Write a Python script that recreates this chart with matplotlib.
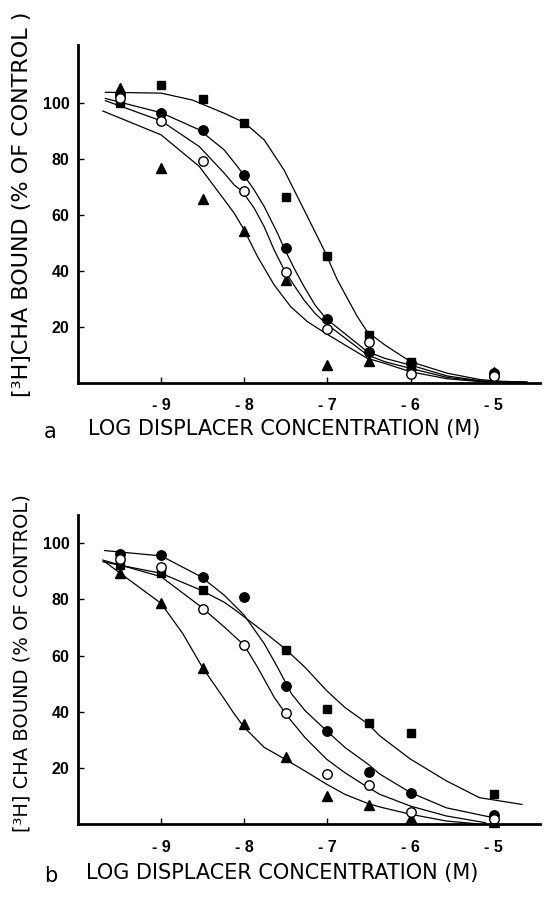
import numpy as np
import matplotlib
matplotlib.use('Agg')
import matplotlib.pyplot as plt

plt.rcParams['font.family'] = ['DejaVu Sans']

# measured points: log concentration and % of control
conc = [-9.5, -9, -8.5, -8, -7.5, -7, -6.5, -6, -5]

# panel a
a_square = [100, 106.5, 101.5, 92.8, 66.3, 45.5, 17.1, 7.4, 3]
a_dot = [103, 96.5, 90.4, 74.3, 48.1, 22.7, 11.2, 7, 3.5]
a_open = [101.7, 93.6, 79.3, 68.7, 39.8, 19.2, 14.8, 3.1, 2.5]
a_tri = [105.2, 76.7, 65.6, 54.4, 36.8, 6.4, 8.0, 6.5, 4.0]

# fitted curves
a_square_cx = [-9.67, -9.0, -8.62, -8.24, -8.0, -7.76, -7.52, -7.28, -7.04, -6.88, -6.64, -6.52, -6.31, -6.0, -5.56, -5.16, -4.9, -4.6]
a_square_cy = [103.8, 103.5, 101.0, 96.3, 93.0, 86.8, 76.0, 61.8, 47.5, 36.8, 23.7, 18.3, 13.6, 7.6, 3.5, 1.2, 0.6, 0.3]
a_dot_cx = [-9.67, -9.0, -8.54, -8.24, -8.12, -8.02, -7.88, -7.76, -7.6, -7.52, -7.39, -7.28, -7.15, -7.02, -6.52, -6.31, -6.0, -5.56, -5.16, -4.9, -4.6]
a_dot_cy = [101.6, 96.5, 90.4, 83.2, 78.7, 74.9, 68.9, 63.0, 53.5, 48.1, 40.4, 34.4, 27.9, 23.1, 11.2, 8.8, 6.4, 2.5, 0.8, 0.4, 0.3]
a_open_cx = [-9.67, -9.0, -8.54, -8.24, -8.12, -8.02, -7.88, -7.76, -7.64, -7.52, -7.39, -7.28, -7.15, -7.02, -6.52, -6.31, -6.0, -5.56, -5.16, -4.9, -4.6]
a_open_cy = [100.8, 93.6, 84.4, 74.9, 70.7, 68.3, 62.4, 55.8, 47.5, 40.4, 34.4, 29.6, 24.9, 21.3, 10.0, 7.6, 5.2, 2.0, 0.6, 0.3, 0.2]
a_tri_cx = [-9.7, -9.0, -8.54, -8.24, -8.12, -8.0, -7.84, -7.64, -7.44, -7.24, -7.02, -6.52, -6.31, -6.0, -5.56, -5.16, -4.9, -4.6]
a_tri_cy = [97.1, 88.6, 77.3, 65.4, 60.6, 54.6, 45.1, 35.0, 27.2, 21.9, 17.7, 8.8, 7.0, 4.0, 1.5, 0.5, 0.2, 0.2]

# panel b (no square at -8)
b_square_x = [-9.5, -9, -8.5, -7.5, -7, -6.5, -6, -5]
b_square = [92.2, 89.3, 83.3, 62.2, 41.2, 36.1, 32.4, 10.7]
b_dot = [96.2, 95.9, 88.0, 80.9, 49.1, 33.3, 18.8, 11.3, 3.2]
b_open = [94.3, 91.4, 76.5, 63.7, 39.6, 17.9, 14.0, 4.4, 2.0]
b_tri = [89.5, 78.6, 55.7, 35.7, 23.8, 10.1, 6.8, 2.1, 1.0]

b_square_cx = [-9.7, -9.0, -8.52, -8.24, -8.12, -8.0, -7.76, -7.51, -7.27, -7.01, -6.79, -6.51, -6.37, -6.0, -5.57, -5.17, -4.66]
b_square_cy = [93.4, 89.3, 83.3, 79.0, 76.5, 73.8, 68.4, 62.5, 55.9, 47.6, 41.6, 35.7, 31.5, 23.2, 15.5, 9.5, 7.1]
b_dot_cx = [-9.68, -9.0, -8.52, -8.24, -8.0, -7.76, -7.6, -7.43, -7.27, -7.01, -6.79, -6.51, -6.37, -6.0, -5.57, -5.04]
b_dot_cy = [97.4, 95.5, 88.1, 81.5, 74.4, 64.3, 55.9, 46.4, 40.5, 33.3, 27.4, 21.4, 17.9, 11.3, 5.9, 2.6]
b_open_cx = [-9.7, -9.0, -8.52, -8.24, -8.0, -7.84, -7.64, -7.47, -7.27, -7.01, -6.79, -6.51, -6.37, -6.0, -5.57, -5.1]
b_open_cy = [94.0, 88.1, 77.4, 70.2, 63.7, 55.9, 45.2, 38.1, 30.9, 23.2, 18.4, 13.1, 10.7, 6.5, 3.0, 0.6]
b_tri_cx = [-9.68, -9.5, -9.0, -8.74, -8.5, -8.24, -8.12, -8.0, -7.76, -7.51, -7.27, -7.01, -6.79, -6.51, -6.37, -6.0, -5.57, -5.2]
b_tri_cy = [93.5, 89.5, 78.6, 67.9, 55.7, 44.6, 39.3, 34.5, 27.4, 23.2, 19.0, 14.3, 10.7, 7.4, 6.2, 3.6, 1.2, 0.2]

xticks = [-9, -8, -7, -6, -5]
xticklabels = ['- 9', '- 8', '- 7', '- 6', '- 5']
yticks = [20, 40, 60, 80, 100]

fig = plt.figure(figsize=(5.49, 8.99), dpi=100)
ax1 = fig.add_axes([0.142, 0.574, 0.842, 0.376])
ax2 = fig.add_axes([0.142, 0.083, 0.842, 0.344])

tickfont = dict(family=['Liberation Sans Narrow', 'Liberation Sans', 'DejaVu Sans'],
                weight='bold', size=11.5)


def style(ax, ymax):
    ax.set_xlim(-10.0, -4.44)
    ax.set_ylim(0, ymax)
    for s in ['top', 'right']:
        ax.spines[s].set_visible(False)
    for s in ['left', 'bottom']:
        ax.spines[s].set_linewidth(2)
    ax.set_xticks(xticks)
    ax.set_xticklabels(xticklabels, fontdict=tickfont)
    ax.set_yticks(yticks)
    ax.set_yticklabels([str(v) for v in yticks], fontdict=tickfont)
    ax.tick_params(direction='in', length=4, width=1)
    ax.tick_params(axis='x', pad=11)
    ax.tick_params(axis='y', pad=6)


ms = 6.8
lw = 0.9

# panel a
ax1.plot(a_square_cx, a_square_cy, color='black', lw=lw)
ax1.plot(a_dot_cx, a_dot_cy, color='black', lw=lw)
ax1.plot(a_open_cx, a_open_cy, color='black', lw=lw)
ax1.plot(a_tri_cx, a_tri_cy, color='black', lw=lw)
ax1.plot(conc, a_square, 's', color='black', ms=ms - 0.5, clip_on=False)
ax1.plot(conc, a_dot, 'o', color='black', ms=ms, clip_on=False)
ax1.plot(conc, a_tri, '^', color='black', ms=ms, clip_on=False)
ax1.plot(conc, a_open, 'o', mfc='white', mec='black', mew=1, ms=ms, clip_on=False)
style(ax1, 120.7)

# panel b
ax2.plot(b_square_cx, b_square_cy, color='black', lw=lw)
ax2.plot(b_dot_cx, b_dot_cy, color='black', lw=lw)
ax2.plot(b_open_cx, b_open_cy, color='black', lw=lw)
ax2.plot(b_tri_cx, b_tri_cy, color='black', lw=lw)
ax2.plot(b_square_x, b_square, 's', color='black', ms=ms - 0.5, clip_on=False)
ax2.plot(conc, b_dot, 'o', color='black', ms=ms, clip_on=False)
ax2.plot(conc, b_tri, '^', color='black', ms=ms, clip_on=False)
ax2.plot(conc, b_open, 'o', mfc='white', mec='black', mew=1, ms=ms, clip_on=False)
style(ax2, 110)

# labels
fig.text(0.040, 0.773, '[³H]CHA BOUND (% OF CONTROL )', rotation=90,
         ha='center', va='center', fontsize=16)
fig.text(0.040, 0.262, '[³H] CHA BOUND (% OF CONTROL)', rotation=90,
         ha='center', va='center', fontsize=14)
fig.text(0.160, 0.523, 'LOG DISPLACER CONCENTRATION (M)',
         ha='left', va='center', fontsize=15)
fig.text(0.157, 0.029, 'LOG DISPLACER CONCENTRATION (M)',
         ha='left', va='center', fontsize=15)
fig.text(0.092, 0.520, 'a', ha='center', va='center', fontsize=15)
fig.text(0.092, 0.026, 'b', ha='center', va='center', fontsize=15)

fig.savefig('out.png', dpi=100)
